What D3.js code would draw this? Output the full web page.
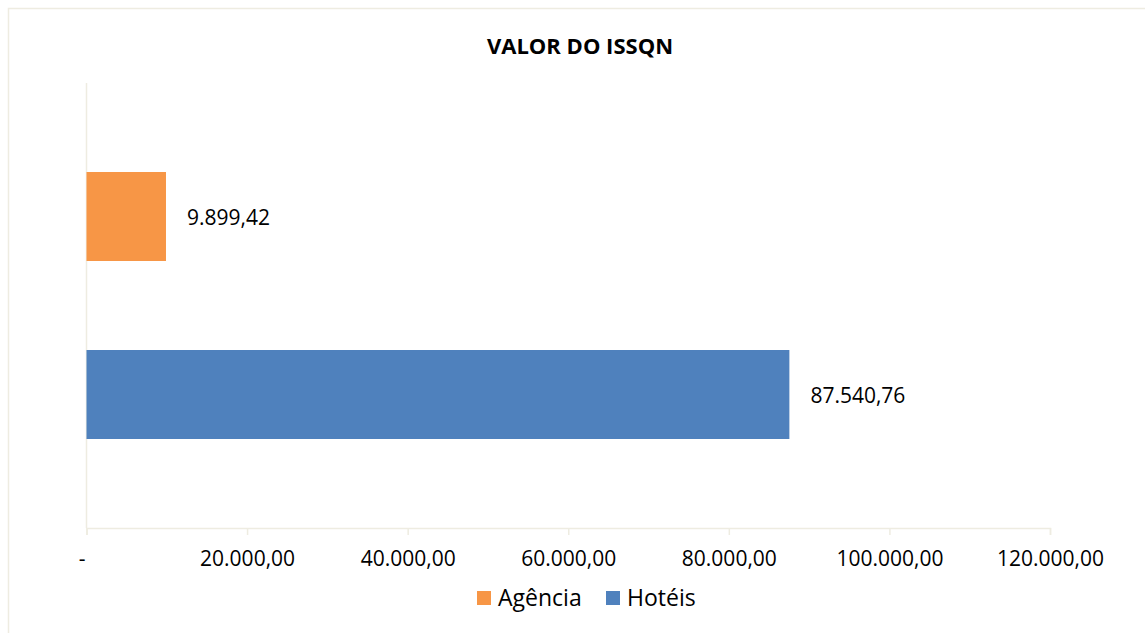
<!DOCTYPE html>
<html>
<head>
<meta charset="utf-8">
<script src="https://cdn.jsdelivr.net/npm/d3@7"></script>
<style>
  html, body { margin: 0; padding: 0; background: #fff; }
  svg { display: block; font-family: "Open Sans", "Noto Sans", sans-serif; }
</style>
</head>
<body>
<svg id="chart" width="1145" height="633"></svg>
<script>
const title = "VALOR DO ISSQN";
const categories = ["Agência", "Hotéis"];
const values = [9899.42, 87540.76];
const colors = ["#F79646", "#4F81BD"];
const tickValues = [0, 20000, 40000, 60000, 80000, 100000, 120000];
const valueLabels = ["9.899,42", "87.540,76"];
const tickLabels = ["-", "20.000,00", "40.000,00", "60.000,00", "80.000,00", "100.000,00", "120.000,00"];

const svg = d3.select("#chart");
const W = 1145, H = 633;

// outer border (top/left visible)
svg.append("rect")
  .attr("x", 8.5).attr("y", 8.5)
  .attr("width", W + 20).attr("height", H + 20)
  .attr("fill", "#fff")
  .attr("stroke", "#EEECE1").attr("stroke-width", 1.5);

svg.append("text")
  .attr("x", 580).attr("y", 53.5)
  .attr("text-anchor", "middle")
  .attr("font-weight", "bold")
  .attr("font-size", 22)
  .attr("fill", "#000")
  .text(title);

const x = d3.scaleLinear().domain([0, 120000]).range([86.5, 1050]);
const y = d3.scaleBand().domain(categories).range([83, 528]).paddingInner(0.5).paddingOuter(0.5);

// vertical axis line
svg.append("line")
  .attr("x1", x(0)).attr("x2", x(0))
  .attr("y1", 83).attr("y2", 528)
  .attr("stroke", "#EEECE1").attr("stroke-width", 1.5);

// x axis
const xAxis = d3.axisBottom(x)
  .tickValues(tickValues)
  .tickSize(7)
  .tickPadding(16.5)
  .tickFormat((d, i) => tickLabels[i]);

const gx = svg.append("g")
  .attr("transform", "translate(0,528)")
  .call(xAxis);
gx.select(".domain").attr("stroke", "#EEECE1").attr("stroke-width", 1.5);
gx.selectAll(".tick line").attr("stroke", "#EEECE1").attr("stroke-width", 1.5);
gx.selectAll(".tick text")
  .attr("fill", "#000")
  .attr("font-size", 21)
  .attr("font-family", "\"Open Sans\", sans-serif")
  .attr("dx", (d) => d === 0 ? -5 : 0);

// bars
svg.selectAll("rect.bar")
  .data(categories)
  .join("rect")
  .attr("class", "bar")
  .attr("x", x(0))
  .attr("y", d => y(d))
  .attr("width", (d, i) => x(values[i]) - x(0))
  .attr("height", y.bandwidth())
  .attr("fill", (d, i) => colors[i]);

// value labels
svg.selectAll("text.vlabel")
  .data(categories)
  .join("text")
  .attr("class", "vlabel")
  .attr("x", (d, i) => x(values[i]) + 21)
  .attr("y", d => y(d) + y.bandwidth() / 2 + 1.5)
  .attr("dy", "0.35em")
  .attr("font-size", 21)
  .attr("fill", "#000")
  .text((d, i) => valueLabels[i]);

// legend
const legendItems = [
  { label: categories[0], color: colors[0], x: 477 },
  { label: categories[1], color: colors[1], x: 606 }
];
const lg = svg.append("g");
legendItems.forEach(it => {
  lg.append("rect")
    .attr("x", it.x).attr("y", 591)
    .attr("width", 14).attr("height", 14)
    .attr("fill", it.color);
  lg.append("text")
    .attr("x", it.x + 21).attr("y", 598)
    .attr("dy", "0.35em")
    .attr("font-size", 23)
    .attr("fill", "#000")
    .text(it.label);
});
</script>
</body>
</html>
